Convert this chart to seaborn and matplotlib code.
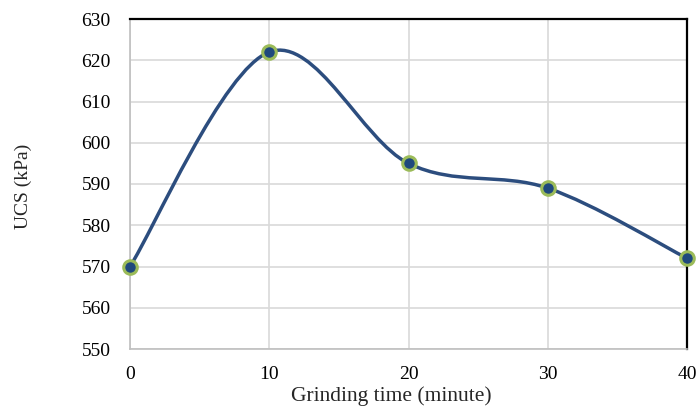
import matplotlib
matplotlib.use("Agg")
import matplotlib.pyplot as plt
import seaborn as sns
import numpy as np
import pandas as pd
from matplotlib.path import Path
from matplotlib.patches import PathPatch

grinding_time = [0, 10, 20, 30, 40]
ucs_kpa = [570, 622, 595, 589, 572]
y_ticks = [550, 560, 570, 580, 590, 600, 610, 620, 630]
x_ticks = [0, 10, 20, 30, 40]

sns.set_theme(style="white")
plt.rcParams['font.family'] = ['Liberation Serif', 'DejaVu Serif']

fig = plt.figure(figsize=(6.97, 4.09), dpi=100)
ax = fig.add_axes([130/697, 1 - 349/409, (687-130)/697, (349-19)/409])

df = pd.DataFrame({"t": grinding_time, "ucs": ucs_kpa})

# Smoothed line (Excel-style Bezier through data points)
pts = np.column_stack([df["t"].to_numpy(float), df["ucs"].to_numpy(float)])
n = len(pts)
verts = [tuple(pts[0])]
codes = [Path.MOVETO]
for i in range(n - 1):
    p0 = pts[i - 1] if i > 0 else pts[i]
    p1 = pts[i]
    p2 = pts[i + 1]
    p3 = pts[i + 2] if i + 2 < n else pts[i + 1]
    c1 = p1 + (p2 - p0) / 6.0
    c2 = p2 - (p3 - p1) / 6.0
    verts += [tuple(c1), tuple(c2), tuple(p2)]
    codes += [Path.CURVE4] * 3
patch = PathPatch(Path(verts, codes), facecolor="none", edgecolor="#2C4D7E",
                  lw=2.5, zorder=3, capstyle="round", joinstyle="round")
ax.add_patch(patch)

sns.scatterplot(data=df, x="t", y="ucs", ax=ax, s=95, color="#1F497D",
                edgecolor="#9BBB59", linewidth=2.2, zorder=4, clip_on=False,
                legend=False)

ax.set_xlim(0, 40)
ax.set_ylim(550, 630)
ax.set_xticks(x_ticks)
ax.set_yticks(y_ticks)
ax.grid(True, color="#D9D9D9", lw=1.2)
ax.set_axisbelow(True)
for s in ["left", "bottom"]:
    ax.spines[s].set_color("#BFBFBF")
    ax.spines[s].set_linewidth(1.2)
for s in ["top", "right"]:
    ax.spines[s].set_color("black")
    ax.spines[s].set_linewidth(1.6)
ax.tick_params(axis="y", length=0, labelsize=14, colors="black", pad=14)
ax.tick_params(axis="x", length=0, labelsize=14, colors="black", pad=12)
ax.set_xlabel("Grinding time (minute)", fontsize=15.5)
ax.set_ylabel("UCS (kPa)", fontsize=14)
ax.xaxis.set_label_coords((391 - 130) / 557, (349 - 396) / 330)
ax.yaxis.set_label_coords((23 - 130) / 557, (349 - 186) / 330)
ax.xaxis.label.set_va("center")
ax.yaxis.label.set_va("center")

fig.savefig("out.png", dpi=100)
